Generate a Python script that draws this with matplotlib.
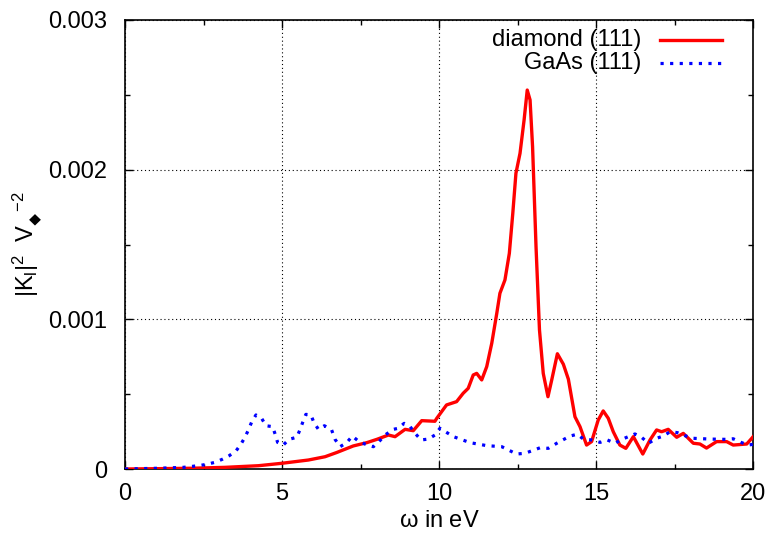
import matplotlib
matplotlib.use("Agg")
import matplotlib.pyplot as plt
from matplotlib.ticker import MultipleLocator, FixedFormatter, FixedLocator
from matplotlib.lines import Line2D

plt.rcParams['font.family'] = ['Liberation Sans', 'DejaVu Sans']
plt.rcParams['mathtext.fontset'] = 'custom'
plt.rcParams['mathtext.rm'] = 'Liberation Sans'
plt.rcParams['mathtext.it'] = 'Liberation Sans'

# ---- data ----
diamond_x = [0.0, 1.0, 2.12, 3.18, 4.25, 4.99, 5.84, 6.37, 6.74, 7.27, 7.70, 8.02, 8.39,
             8.60, 8.92, 9.18, 9.45, 9.87, 9.93, 10.24, 10.56, 10.77, 10.93, 11.09,
             11.20, 11.36, 11.52, 11.68, 11.84, 11.94, 12.10, 12.24, 12.35, 12.45,
             12.58, 12.71, 12.81, 12.90, 12.98, 13.09, 13.20, 13.32, 13.47, 13.59,
             13.77, 13.96, 14.12, 14.33, 14.49, 14.70, 14.86, 15.07, 15.23, 15.39,
             15.55, 15.76, 15.95, 16.19, 16.49, 16.72, 16.93, 17.09, 17.30, 17.57,
             17.78, 18.10, 18.31, 18.52, 18.84, 19.16, 19.37, 19.80, 19.96, 20.0]
diamond_y = [0.0, 0.002e-3, 0.005e-3, 0.011e-3, 0.022e-3, 0.038e-3, 0.060e-3, 0.082e-3,
             0.110e-3, 0.154e-3, 0.176e-3, 0.198e-3, 0.227e-3, 0.216e-3, 0.265e-3,
             0.256e-3, 0.323e-3, 0.319e-3, 0.339e-3, 0.428e-3, 0.450e-3, 0.506e-3,
             0.539e-3, 0.628e-3, 0.639e-3, 0.595e-3, 0.684e-3, 0.840e-3, 1.040e-3,
             1.174e-3, 1.263e-3, 1.441e-3, 1.708e-3, 1.976e-3, 2.109e-3, 2.332e-3,
             2.532e-3, 2.466e-3, 2.153e-3, 1.485e-3, 0.929e-3, 0.639e-3, 0.483e-3,
             0.595e-3, 0.770e-3, 0.700e-3, 0.600e-3, 0.349e-3, 0.283e-3, 0.160e-3,
             0.183e-3, 0.327e-3, 0.388e-3, 0.339e-3, 0.249e-3, 0.160e-3, 0.138e-3,
             0.216e-3, 0.100e-3, 0.194e-3, 0.261e-3, 0.249e-3, 0.265e-3, 0.212e-3,
             0.238e-3, 0.172e-3, 0.167e-3, 0.140e-3, 0.183e-3, 0.183e-3, 0.160e-3,
             0.167e-3, 0.205e-3, 0.215e-3]

gaas_x = [0.0, 1.06, 1.86, 2.33, 2.60, 2.87, 3.10, 3.32, 3.54, 3.69, 3.82, 3.93, 4.03,
          4.17, 4.35, 4.49, 4.70, 4.78, 4.86, 5.04, 5.22, 5.47, 5.57, 5.66, 5.76, 5.92,
          6.02, 6.16, 6.35, 6.58, 6.69, 6.85, 7.06, 7.24, 7.43, 7.66, 7.91, 8.09, 8.28,
          8.55, 8.70, 8.89, 9.08, 9.24, 9.43, 9.66, 9.87, 10.03, 10.46, 10.99, 11.52,
          12.0, 12.47, 12.74, 13.22, 13.48, 13.75, 14.17, 14.40, 14.60, 14.86, 15.13,
          15.36, 15.61, 15.82, 16.03, 16.24, 16.45, 16.67, 16.93, 17.14, 17.36, 17.59,
          17.87, 18.10, 18.63, 19.16, 19.37, 19.64, 19.85, 20.0]
gaas_y = [0.0, 0.005e-3, 0.011e-3, 0.022e-3, 0.031e-3, 0.045e-3, 0.065e-3, 0.089e-3,
          0.122e-3, 0.165e-3, 0.212e-3, 0.261e-3, 0.312e-3, 0.361e-3, 0.339e-3,
          0.289e-3, 0.283e-3, 0.234e-3, 0.178e-3, 0.160e-3, 0.198e-3, 0.212e-3,
          0.261e-3, 0.312e-3, 0.365e-3, 0.361e-3, 0.309e-3, 0.265e-3, 0.289e-3,
          0.261e-3, 0.198e-3, 0.149e-3, 0.176e-3, 0.220e-3, 0.187e-3, 0.165e-3,
          0.149e-3, 0.183e-3, 0.227e-3, 0.265e-3, 0.272e-3, 0.305e-3, 0.283e-3,
          0.238e-3, 0.194e-3, 0.200e-3, 0.227e-3, 0.272e-3, 0.216e-3, 0.176e-3,
          0.156e-3, 0.149e-3, 0.100e-3, 0.105e-3, 0.142e-3, 0.138e-3, 0.172e-3,
          0.220e-3, 0.232e-3, 0.200e-3, 0.194e-3, 0.178e-3, 0.194e-3, 0.172e-3,
          0.198e-3, 0.216e-3, 0.234e-3, 0.212e-3, 0.172e-3, 0.205e-3, 0.220e-3,
          0.249e-3, 0.243e-3, 0.220e-3, 0.205e-3, 0.200e-3, 0.198e-3, 0.202e-3,
          0.176e-3, 0.160e-3, 0.165e-3]

labels = ["diamond (111)", "GaAs (111)"]
ytick_vals = [0.0, 0.001, 0.002, 0.003]
ytick_labels = ["0", "0.001", "0.002", "0.003"]
xtick_vals = [0, 5, 10, 15, 20]

FS = 17

fig = plt.figure(figsize=(7.69, 5.40), dpi=100)
ax = fig.add_axes([125/769, 1-469/540, (753-125)/769, (469-20)/540])

ax.plot(diamond_x, diamond_y, color='#ff0000', lw=2.4, solid_joinstyle='round', zorder=3)
ax.plot(gaas_x, gaas_y, color='#0000ff', lw=2.3, linestyle=(0, (1, 2)), zorder=3)

ax.set_xlim(0, 20)
ax.set_ylim(0, 0.003)
ax.xaxis.set_major_locator(FixedLocator(xtick_vals))
ax.xaxis.set_minor_locator(MultipleLocator(2.5))
ax.yaxis.set_major_locator(FixedLocator(ytick_vals))
ax.yaxis.set_major_formatter(FixedFormatter(ytick_labels))
ax.yaxis.set_minor_locator(MultipleLocator(0.0005))

ax.tick_params(which='both', direction='in', top=True, right=True, labelsize=FS, width=1)
ax.tick_params(which='major', length=6)
ax.tick_params(which='minor', length=3.5)
ax.tick_params(axis='y', which='major', pad=13)
ax.tick_params(axis='x', which='major', pad=10)
for s in ax.spines.values():
    s.set_linewidth(1.2)

ax.grid(True, which='major', color='black', linestyle=(0, (1, 2.5)), lw=0.8)

ax.set_xlabel(r'$\omega$ in eV', fontsize=FS, labelpad=4)
ax.set_ylabel('$|K_{l}|^{2}$  V$_{_{\u25c6}}$$^{-2}$', fontsize=FS, labelpad=2)

# legend (gnuplot style: right-aligned text, sample after)
tr = ax.transAxes
def ax_coords(px, py):
    return ((px - 125) / 628, (469 - py) / 449)
for i, (lab, col, ls, lw) in enumerate([(labels[0], '#ff0000', '-', 2.4),
                                        (labels[1], '#0000ff', (0, (1, 2)), 2.3)]):
    py = 40 + i * 23
    tx, ty = ax_coords(641, py)
    ax.text(tx, ty, lab, transform=tr, ha='right', va='center', fontsize=FS)
    x0, y0 = ax_coords(660, py)
    x1, _ = ax_coords(722, py)
    ax.add_line(Line2D([x0, x1], [y0, y0], transform=tr, color=col, lw=lw, linestyle=ls))

fig.savefig('out.png', dpi=100)
